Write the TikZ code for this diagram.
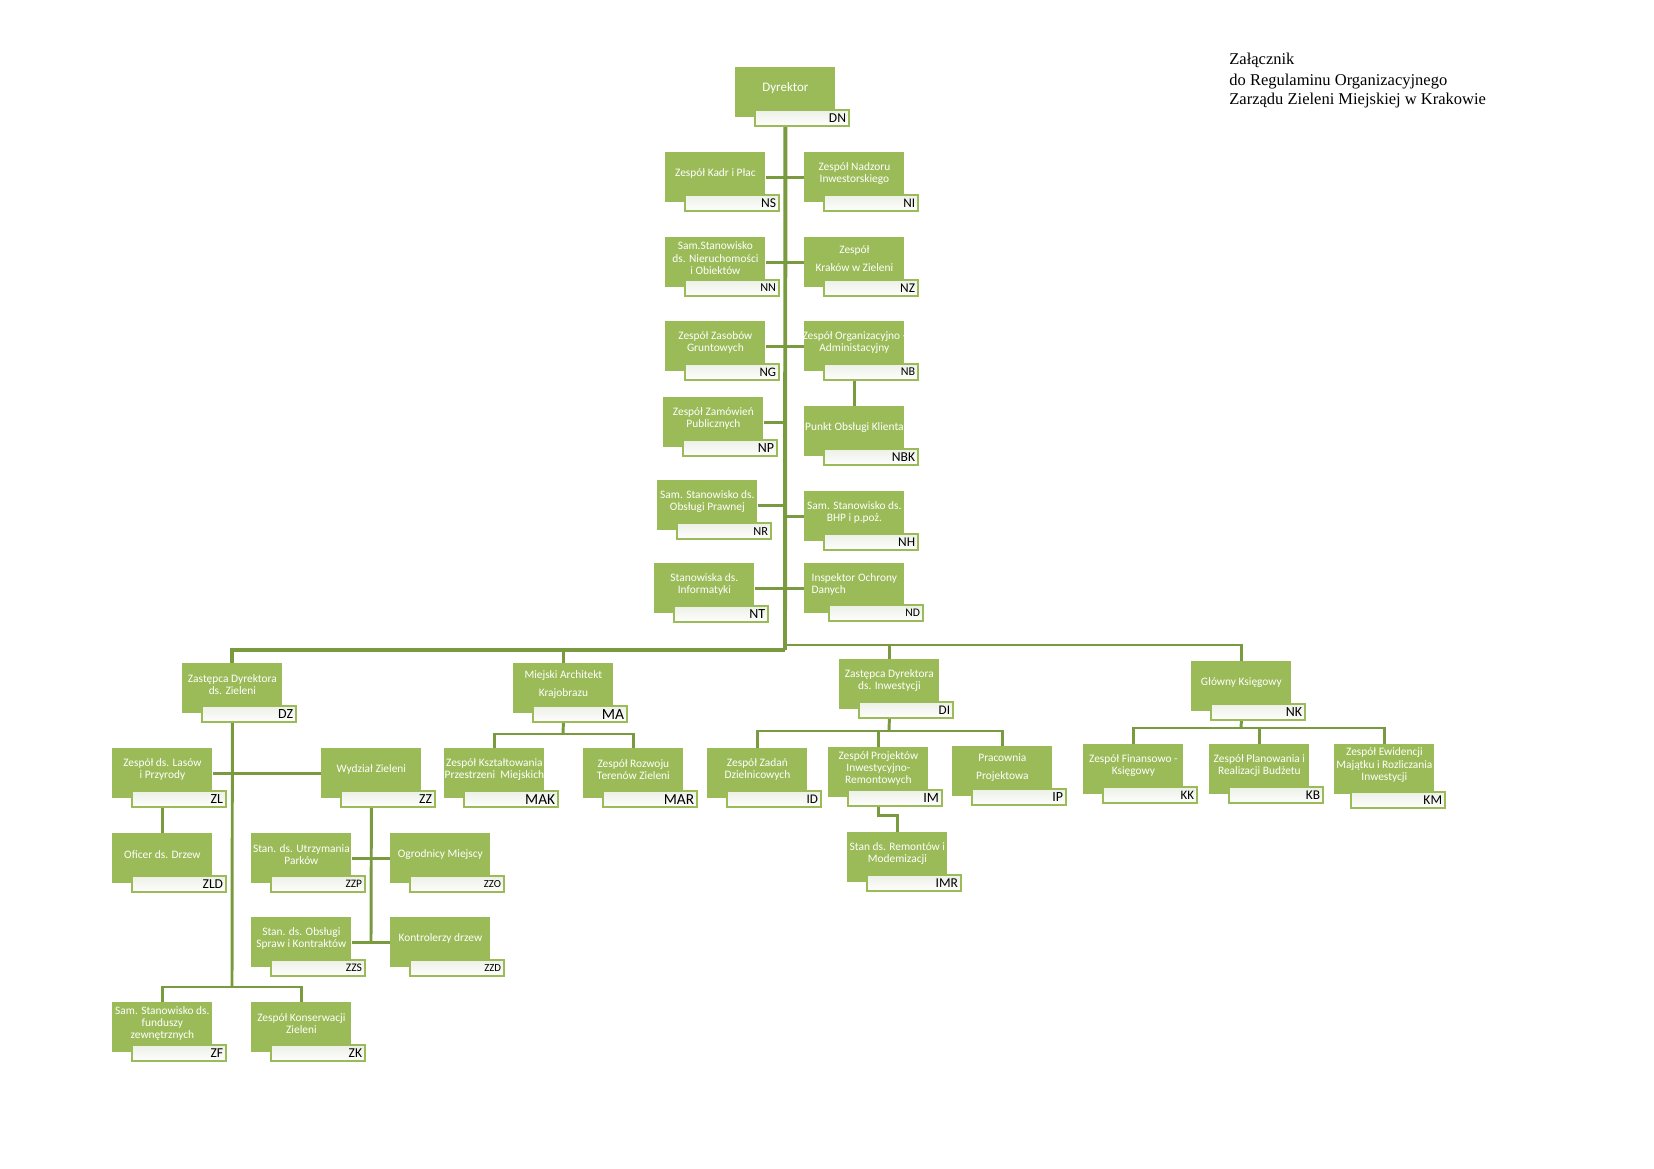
\documentclass[tikz,border=0pt]{standalone}
\usepackage{fontspec}
\setmainfont{Carlito}
\newfontfamily\hdrfont{Liberation Serif}
\usetikzlibrary{calc}
\definecolor{boxgreen}{HTML}{9BBB59}
\definecolor{linegreen}{HTML}{7A9A40}
\definecolor{labtop}{HTML}{ECF0E6}
\newdimen\pxu \pxu=0.50900pt
\tikzset{
 gbox/.style={fill=boxgreen, draw=none, minimum width=100\pxu, minimum height=50\pxu, anchor=north west, inner sep=0pt},
 gtext/.style={text=white, align=center, inner sep=0pt, font=\fontsize{5.8}{6.3}\selectfont},
 lbox/.style={draw=boxgreen, line width=1.1pt, top color=labtop, bottom color=white, minimum height=16\pxu, text width=88\pxu, align=right, inner xsep=3\pxu, inner ysep=0pt, anchor=north west, text=black},
 conn/.style={draw=linegreen, line width=1.5pt},
 trunkline/.style={draw=linegreen, line width=2pt},
 hdr/.style={anchor=base west, inner sep=0pt, font=\hdrfont\fontsize{8.4}{10}\selectfont},
}
\def\lofx{19}\def\lofy{42}
\newcommand\orgunit[7][]{%
  \node[gbox] (#2) at (#3,#4) {};
  \node[gtext,#1] (#2T) at ($(#2.center)+(0,-4)$) {#5};
  \node[lbox] (#2L) at ($(#3,#4)+(\lofx,\lofy)$) {\fontsize{#7}{#7}\selectfont #6};
}
\begin{document}
\begin{tikzpicture}[x=0.509pt, y=-0.509pt]
\fill[white] (0,0) rectangle (1654,1169);
\useasboundingbox (0,0) rectangle (1654,1169);

% header
\node[hdr] (h1) at (1229,65) {Załącznik};
\node[hdr] (h2) at (1229,85.5) {do Regulaminu Organizacyjnego};
\node[hdr] (h3) at (1229,105) {Zarządu Zieleni Miejskiej w Krakowie};

% top level
\orgunit[font=\fontsize{6.6}{7}\selectfont]{dn}{735}{67}{Dyrektor}{DN}{6.9}
\orgunit{ns}{665}{152}{Zespół Kadr i Płac}{NS}{6.9}
\orgunit{ni}{804}{152}{Zespół Nadzoru\\Inwestorskiego}{NI}{6.7}
\orgunit{nn}{665}{237}{Sam.Stanowisko\\ds. Nieruchomości\\i Obiektów}{NN}{6.2}
\orgunit{nz}{804}{237}{Zespół\\[2.8pt]Kraków w Zieleni}{NZ}{6.8}
\orgunit{ng}{665}{321}{Zespół Zasobów\\Gruntowych}{NG}{6.6}
\orgunit{nb}{804}{321}{Zespół Organizacyjno -\\Administacyjny}{NB}{6.1}
\orgunit{np}{663}{397}{Zespół Zamówień\\Publicznych}{NP}{7.1}
\orgunit{nbk}{804}{406}{Punkt Obsługi Klienta}{NBK}{6.9}
\orgunit{nr}{657}{480}{Sam. Stanowisko ds.\\Obsługi Prawnej}{NR}{6.3}
\orgunit{nh}{804}{491}{Sam. Stanowisko ds.\\BHP i p.poż.}{NH}{6.8}
\orgunit{nt}{654}{563}{Stanowiska ds.\\Informatyki}{NT}{7.1}
\def\lofx{24}\def\lofy{41}
\orgunit[align=left]{nd}{804}{563}{Inspektor Ochrony\\ Danych}{ND}{5.9}
\def\lofx{19}\def\lofy{42}

% second level
\orgunit{dz}{182}{663}{Zastępca Dyrektora\\ds. Zieleni}{DZ}{7.1}
\orgunit{ma}{513}{663}{Miejski Architekt\\[2.8pt]Krajobrazu}{MA}{7.9}
\orgunit{di}{839}{659}{Zastępca Dyrektora\\ds. Inwestycji}{DI}{6.7}
\orgunit{nk}{1191}{661}{Główny Księgowy}{NK}{7.1}

% DZ subtree
\orgunit{zl}{112}{748}{Zespół ds. Lasów\\i Przyrody}{ZL}{7.1}
\orgunit{zz}{321}{748}{Wydział Zieleni}{ZZ}{7.0}
\orgunit{zld}{112}{833}{Oficer ds. Drzew}{ZLD}{6.9}
\orgunit{zzp}{251}{833}{Stan. ds. Utrzymania\\Parków}{ZZP}{5.8}
\orgunit{zzo}{390}{833}{Ogrodnicy Miejscy}{ZZO}{5.5}
\orgunit{zzs}{251}{917}{Stan. ds. Obsługi\\Spraw i Kontraktów}{ZZS}{5.9}
\orgunit{zzd}{390}{917}{Kontrolerzy drzew}{ZZD}{5.5}
\orgunit{zf}{112}{1002}{Sam. Stanowisko ds.\\funduszy\\zewnętrznych}{ZF}{6.9}
\orgunit{zk}{251}{1002}{Zespół Konserwacji\\Zieleni}{ZK}{6.9}

% MA subtree
\orgunit{mak}{444}{748}{Zespół Kształtowania\\Przestrzeni~ Miejskich}{MAK}{7.8}
\orgunit{mar}{583}{748}{Zespół Rozwoju\\Terenów Zieleni}{MAR}{7.8}

% DI subtree
\orgunit{id}{707}{748}{Zespół Zadań\\Dzielnicowych}{ID}{6.7}
\orgunit{im}{828}{747}{Zespół Projektów\\Inwestycyjno-\\Remontowych}{IM}{7.2}
\orgunit{ip}{952}{746}{Pracownia\\[2.8pt]Projektowa}{IP}{7.1}
\orgunit{imr}{847}{832}{Stan ds. Remontów i\\Modemizacji}{IMR}{6.9}

% NK subtree
\orgunit{kk}{1083}{744}{Zespół Finansowo -\\Księgowy}{KK}{6.6}
\orgunit{kb}{1209}{744}{Zespół Planowania i\\Realizacji Budżetu}{KB}{6.8}
\def\lofx{16}\def\lofy{47}
\orgunit{km}{1334}{744}{Zespół Ewidencji\\Majątku i Rozliczania\\Inwestycji}{KM}{6.9}
\def\lofx{19}\def\lofy{42}

% junction coordinates
\coordinate (jl) at (785,650);
\coordinate (jr) at (786,645);
\coordinate (dzj) at (232,987);
\coordinate (zzj) at (371,942);
\coordinate (maj) at (563,734);
\coordinate (dij) at (889,731);
\coordinate (nkj) at (1241,728);

% main trunk
\draw[trunkline] (dn.center |- dnL.south) -- (jl);
\draw[conn] (ns.east) -- (ni.west);
\draw[conn] (nn.east) -- (nz.west);
\draw[conn] (ng.east) -- (nb.west);
\draw[conn] (nb.center |- nbL.south) -- (nbk.north);
\draw[conn] (np.east) -- (np.east -| jl);
\draw[conn] (nr.east) -- (nr.east -| jl);
\draw[conn] (nh.west -| jl) -- (nh.west);
\draw[conn] (nt.east) -- (nd.west);

% second level branches
\draw[trunkline] (jl) -| (dz.north);
\draw[conn] (jl -| ma.north) -- (ma.north);
\draw[conn] (jr) -| (nk.north);
\draw[conn] (jr -| di.north) -- (di.north);

% DZ subtree
\draw[conn] (dz.center |- dzL.south) -- (dzj);
\draw[conn] (zl.east) -- (zz.west);
\draw[conn] (zl.center |- zlL.south) -- (zld.north);
\draw[conn] (zz.center |- zzL.south) -- (zzj);
\draw[conn] (zzp.east) -- (zzo.west);
\draw[conn] (zzs.east) -- (zzd.west);
\draw[conn] (zf.north) |- (dzj) -| (zk.north);

% MA subtree
\draw[conn] (ma.center |- maL.south) -- (maj);
\draw[conn] (mak.north) |- (maj) -| (mar.north);

% DI subtree
\draw[conn] (di.center |- diL.south) -- (dij);
\draw[conn] (id.north) |- (dij) -| (ip.north);
\draw[conn] (dij -| im.north) -- (im.north);
\draw[conn] (im.center |- imL.south) -- ++(0,8) -| (imr.north);

% NK subtree
\draw[conn] (nk.center |- nkL.south) -- (nkj);
\draw[conn] (kk.north) |- (nkj) -| (km.north);
\draw[conn] (nkj -| kb.north) -- (kb.north);
\end{tikzpicture}
\end{document}
